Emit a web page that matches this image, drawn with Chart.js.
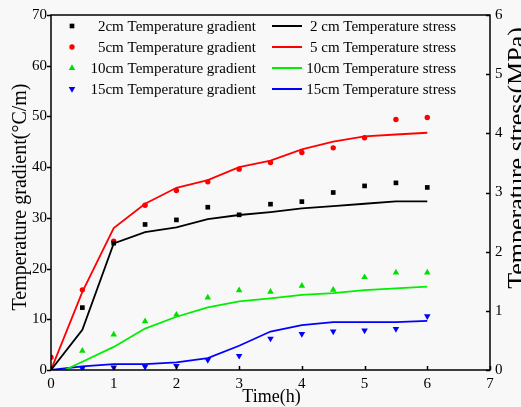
<!DOCTYPE html>
<html>
<head>
<meta charset="utf-8">
<script src="https://cdn.jsdelivr.net/npm/chart.js@4.4.1/dist/chart.umd.min.js"></script>
<style>
  body { margin: 0; background: #f8f8f8; }
  canvas { display: block; }
</style>
</head>
<body>
<canvas id="chart" width="521" height="407"></canvas>
<script>
// time axis (h)
const times = [0, 0.5, 1, 1.5, 2, 2.5, 3, 3.5, 4, 4.5, 5, 5.5, 6];

// measured temperature gradient (°C/m), left axis
const gradient2cm  = [null, 12.3, 25.0, 28.7, 29.6, 32.1, 30.6, 32.7, 33.2, 35.0, 36.3, 36.9, 36.0];
const gradient5cm  = [2.5, 15.8, 25.4, 32.5, 35.4, 37.1, 39.6, 40.9, 42.9, 43.8, 45.8, 49.4, 49.8];
const gradient10cm = [null, 3.8, 7.0, 9.6, 10.9, 14.3, 15.7, 15.4, 16.6, 15.8, 18.3, 19.2, 19.2];
const gradient15cm = [null, 0.3, 0.5, 0.65, 0.8, 2.0, 2.8, 6.2, 7.1, 7.6, 7.8, 8.1, 10.6];

// computed temperature stress (MPa), right axis
const stress2cm  = [0, 0.68, 2.14, 2.33, 2.41, 2.55, 2.62, 2.67, 2.73, 2.77, 2.81, 2.85, 2.85];
const stress5cm  = [0, 1.32, 2.40, 2.81, 3.08, 3.21, 3.43, 3.54, 3.73, 3.86, 3.95, 3.98, 4.01];
const stress10cm = [-0.11, 0.14, 0.39, 0.70, 0.90, 1.06, 1.16, 1.21, 1.27, 1.30, 1.35, 1.38, 1.41];
const stress15cm = [0, 0.06, 0.10, 0.10, 0.13, 0.20, 0.41, 0.65, 0.76, 0.81, 0.81, 0.81, 0.83];

const xTicks = [0, 1, 2, 3, 4, 5, 6, 7];
const leftTicks = [0, 10, 20, 30, 40, 50, 60, 70];
const rightTicks = [0, 1, 2, 3, 4, 5, 6];

const FONT = '"Liberation Serif", "Times New Roman", serif';

function toPoints(values) {
    return times.map((t, i) => ({ x: t, y: values[i] })).filter(p => p.y !== null);
}

function scatterSet(label, values, color, style, radius, rotation) {
    return {
        label: label,
        data: toPoints(values),
        yAxisID: 'y',
        showLine: false,
        pointStyle: style,
        pointRadius: radius,
        pointRotation: rotation || 0,
        pointBackgroundColor: color,
        pointBorderColor: color,
        pointBorderWidth: 0
    };
}

function lineSet(label, values, color) {
    return {
        label: label,
        data: toPoints(values),
        yAxisID: 'y1',
        borderColor: color,
        borderWidth: 1.8,
        pointRadius: 0,
        tension: 0,
        fill: false
    };
}

// background, frame, ticks, titles and the two-column legend
const decorations = {
    id: 'decorations',
    beforeDraw(chart) {
        const c = chart.ctx;
        c.save();
        c.fillStyle = '#f8f8f8';
        c.fillRect(0, 0, chart.width, chart.height);
        c.restore();
    },
    afterDraw(chart) {
        const c = chart.ctx;
        const a = chart.chartArea;
        const sx = chart.scales.x, sy = chart.scales.y, sy1 = chart.scales.y1;
        c.save();
        c.strokeStyle = '#000';
        c.lineWidth = 1.5;
        c.strokeRect(a.left, a.top, a.right - a.left, a.bottom - a.top);

        c.beginPath();
        xTicks.forEach(v => {
            const px = Math.round(sx.getPixelForValue(v)) + 0.5;
            c.moveTo(px, a.bottom);
            c.lineTo(px, a.bottom - 4);
        });
        leftTicks.forEach(v => {
            const py = Math.round(sy.getPixelForValue(v)) + 0.5;
            c.moveTo(a.left, py);
            c.lineTo(a.left - 4, py);
        });
        rightTicks.forEach(v => {
            const py = Math.round(sy1.getPixelForValue(v)) + 0.5;
            c.moveTo(a.right, py);
            c.lineTo(a.right - 4, py);
        });
        c.stroke();

        // axis titles
        c.fillStyle = '#000';
        c.textAlign = 'center';
        c.textBaseline = 'alphabetic';
        c.font = '18px ' + FONT;
        c.fillText('Time(h)', (a.left + a.right) / 2 + 1, 402);

        c.save();
        c.translate(26, 197);
        c.rotate(-Math.PI / 2);
        c.font = '20px ' + FONT;
        c.fillText('Temperature gradient(°C/m)', 0, 0);
        c.restore();

        c.save();
        c.translate(525, 158);
        c.rotate(-Math.PI / 2);
        c.font = '26px ' + FONT;
        c.fillText('Temperature stress(MPa)', 0, 0);
        c.restore();

        // legend
        const rows = [26, 47, 68, 89];
        c.font = '15px ' + FONT;
        c.textAlign = 'right';
        c.textBaseline = 'middle';
        const ds = chart.data.datasets;
        for (let i = 0; i < 4; i++) {
            const d = ds[i];
            c.fillStyle = d.pointBackgroundColor;
            Chart.helpers.drawPoint(c, {
                pointStyle: d.pointStyle,
                radius: d.pointRadius,
                rotation: d.pointRotation,
                borderWidth: 0
            }, 72, rows[i]);
            c.fillStyle = '#000';
            c.fillText(d.label, 256, rows[i] + 1);
        }
        for (let i = 0; i < 4; i++) {
            const d = ds[i + 4];
            c.strokeStyle = d.borderColor;
            c.lineWidth = 2;
            c.beginPath();
            c.moveTo(272, rows[i]);
            c.lineTo(302, rows[i]);
            c.stroke();
            c.fillStyle = '#000';
            c.fillText(d.label, 456, rows[i] + 1);
        }
        c.restore();
    }
};

const ctx = document.getElementById('chart').getContext('2d');
const chart = new Chart(ctx, {
    type: 'line',
    data: {
        datasets: [
            scatterSet('2cm Temperature gradient', gradient2cm, '#000000', 'rect', 3.3),
            scatterSet('5cm Temperature gradient', gradient5cm, '#ff0000', 'circle', 2.7),
            scatterSet('10cm Temperature gradient', gradient10cm, '#00e000', 'triangle', 3.8),
            scatterSet('15cm Temperature gradient', gradient15cm, '#0000ff', 'triangle', 3.8, 180),
            lineSet('2 cm Temperature stress', stress2cm, '#000000'),
            lineSet('5 cm Temperature stress', stress5cm, '#ff0000'),
            lineSet('10cm Temperature stress', stress10cm, '#00ee00'),
            lineSet('15cm Temperature stress', stress15cm, '#0000ff')
        ]
    },
    options: {
        responsive: false,
        animation: false,
        events: [],
        layout: { padding: { top: 15, left: 0, right: 0, bottom: 0 } },
        plugins: {
            legend: { display: false },
            tooltip: { enabled: false }
        },
        scales: {
            x: {
                type: 'linear',
                min: 0,
                max: 7,
                grid: { display: false, drawTicks: false },
                border: { display: false },
                afterBuildTicks: s => { s.ticks = xTicks.map(v => ({ value: v })); },
                afterFit: s => { s.height = 37; },
                ticks: { color: '#000', padding: 5, font: { family: FONT, size: 15 } }
            },
            y: {
                position: 'left',
                min: 0,
                max: 70,
                grid: { display: false, drawTicks: false },
                border: { display: false },
                afterBuildTicks: s => { s.ticks = leftTicks.map(v => ({ value: v })); },
                afterFit: s => { s.width = 51; },
                ticks: { color: '#000', padding: 4, font: { family: FONT, size: 15 } }
            },
            y1: {
                position: 'right',
                min: 0,
                max: 6,
                grid: { display: false, drawTicks: false },
                border: { display: false },
                afterBuildTicks: s => { s.ticks = rightTicks.map(v => ({ value: v })); },
                afterFit: s => { s.width = 31; },
                ticks: { color: '#000', padding: 5, font: { family: FONT, size: 15 } }
            }
        }
    },
    plugins: [decorations]
});
</script>
</body>
</html>
